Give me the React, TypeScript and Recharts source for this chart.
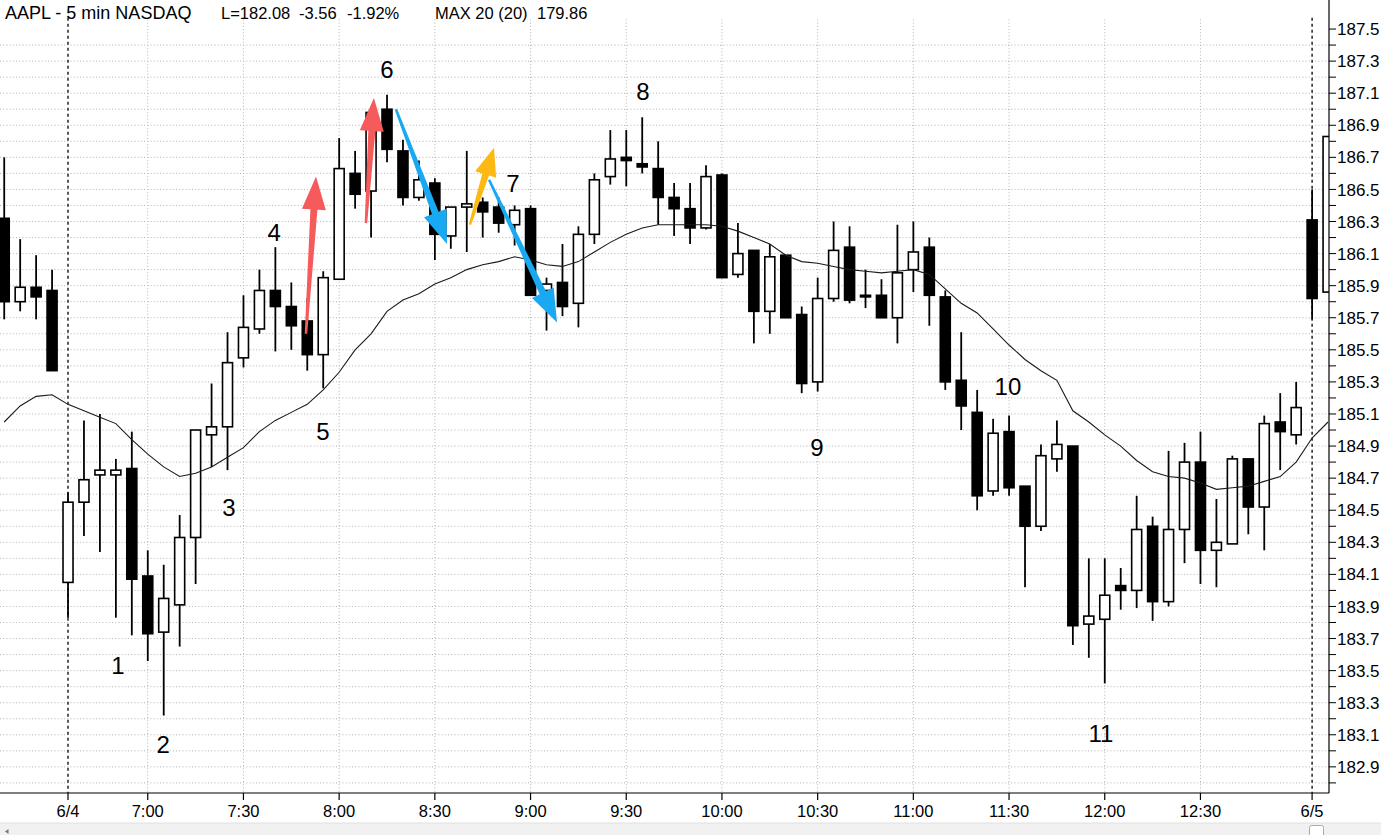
import React from 'react';
import { ComposedChart, Bar, Line, XAxis, YAxis, ReferenceLine, ReferenceDot } from 'recharts';

// ---------- data ----------
const barIndex = [-4, -3, -2, -1, 0, 1, 2, 3, 4, 5, 6, 7, 8, 9, 10, 11, 12, 13, 14, 15, 16, 17, 18, 19, 20, 21, 22, 23, 24, 25, 26, 27, 28, 29, 30, 31, 32, 33, 34, 35, 36, 37, 38, 39, 40, 41, 42, 43, 44, 45, 46, 47, 48, 49, 50, 51, 52, 53, 54, 55, 56, 57, 58, 59, 60, 61, 62, 63, 64, 65, 66, 67, 68, 69, 70, 71, 72, 73, 74, 75, 76, 77, 78, 79];

const opens = [186.32, 185.80, 185.89, 185.87,
  184.05, 184.55, 184.72, 184.72, 184.76, 184.09, 183.74, 183.91, 184.33, 184.97,
  185.02, 185.45, 185.63, 185.87, 185.77, 185.68, 185.47, 185.94, 186.60, 186.49,
  187.00, 186.74, 186.45, 186.54, 186.21, 186.39, 186.42, 186.39, 186.28, 186.38,
  185.87, 185.92, 185.79, 186.22, 186.58, 186.70, 186.66, 186.63, 186.45, 186.38,
  186.26, 186.59, 185.97, 186.12, 185.74, 186.09, 185.72, 185.30, 185.82, 186.14,
  185.84, 185.84, 185.70, 186.00, 186.14, 185.83, 185.31, 185.11, 184.62, 184.99,
  184.65, 184.40, 184.82, 184.90, 183.79, 183.82, 184.03, 184.00, 184.40, 183.93,
  184.38, 184.80, 184.25, 184.29, 184.82, 184.52, 185.05, 184.97, 186.31, 185.86];

const highs = [186.70, 186.19, 186.09, 186.00,
  184.61, 185.06, 185.10, 184.82, 184.99, 184.25, 184.16, 184.47, 185.00, 185.29,
  185.61, 185.84, 186.00, 186.14, 185.92, 185.82, 185.99, 186.82, 186.74, 187.00,
  187.09, 186.81, 186.68, 186.57, 186.39, 186.74, 186.45, 186.45, 186.40, 186.40,
  185.95, 186.16, 186.27, 186.60, 186.87, 186.87, 186.95, 186.80, 186.54, 186.54,
  186.65, 186.60, 186.29, 186.12, 186.16, 186.09, 185.77, 185.95, 186.30, 186.27,
  186.00, 185.94, 186.28, 186.30, 186.20, 185.87, 185.61, 185.25, 185.07, 185.09,
  184.65, 184.91, 185.06, 184.90, 184.20, 184.20, 184.14, 184.59, 184.46, 184.87,
  184.92, 184.99, 184.57, 184.84, 184.82, 185.09, 185.23, 185.30, 186.50, 186.83];

const lows = [185.69, 185.74, 185.69, 185.37,
  183.83, 184.34, 184.24, 183.83, 183.72, 183.56, 183.22, 183.65, 184.04, 184.77,
  184.75, 185.39, 185.60, 185.49, 185.50, 185.37, 185.26, 185.94, 186.38, 186.20,
  186.67, 186.40, 186.43, 186.06, 186.13, 186.11, 186.20, 186.23, 186.15, 185.84,
  185.62, 185.71, 185.64, 186.16, 186.53, 186.52, 186.60, 186.28, 186.21, 186.16,
  186.25, 185.95, 185.95, 185.54, 185.60, 185.70, 185.23, 185.24, 185.80, 185.79,
  185.76, 185.70, 185.54, 185.86, 185.65, 185.25, 185.00, 184.50, 184.59, 184.59,
  184.02, 184.37, 184.74, 183.66, 183.58, 183.42, 183.88, 183.89, 183.81, 183.90,
  184.17, 184.04, 184.02, 184.29, 184.35, 184.25, 184.75, 184.91, 185.69, 185.86];

const closes = [185.80, 185.89, 185.83, 185.37,
  184.55, 184.69, 184.75, 184.75, 184.07, 183.73, 183.95, 184.33, 185.00, 185.02,
  185.42, 185.64, 185.87, 185.77, 185.65, 185.47, 185.95, 186.63, 186.47, 186.98,
  186.75, 186.45, 186.56, 186.22, 186.39, 186.41, 186.36, 186.29, 186.37, 185.84,
  185.91, 185.77, 186.22, 186.56, 186.69, 186.68, 186.64, 186.45, 186.38, 186.26,
  186.58, 185.95, 186.10, 185.74, 186.08, 185.70, 185.29, 185.82, 186.12, 185.81,
  185.83, 185.70, 185.98, 186.11, 185.84, 185.30, 185.15, 184.59, 184.98, 184.64,
  184.40, 184.84, 184.91, 183.78, 183.84, 183.97, 184.00, 184.38, 183.93, 184.38,
  184.80, 184.25, 184.30, 184.82, 184.52, 185.04, 184.99, 185.14, 185.82, 186.83];

const maValues = [185.05, 185.15, 185.21, 185.22,
  185.16, 185.12, 185.08, 185.04, 184.94, 184.85, 184.77, 184.71, 184.73, 184.77,
  184.83, 184.89, 184.99, 185.06, 185.11, 185.16, 185.25, 185.36, 185.50, 185.60,
  185.74, 185.81, 185.85, 185.91, 185.95, 186.00, 186.03, 186.05, 186.08, 186.06,
  186.03, 186.02, 186.05, 186.11, 186.17, 186.22, 186.26, 186.28, 186.28, 186.28,
  186.28, 186.27, 186.24, 186.20, 186.16, 186.09, 186.05, 186.04, 186.02, 186.00,
  185.99, 185.98, 185.99, 186.00, 185.97, 185.88, 185.79, 185.73, 185.63, 185.53,
  185.44, 185.37, 185.31, 185.12, 185.05, 184.97, 184.90, 184.81, 184.74, 184.71,
  184.70, 184.67, 184.63, 184.64, 184.65, 184.68, 184.71, 184.80, 184.95, 185.05];

const xTickIndex = [0, 5, 11, 17, 23, 29, 35, 41, 47, 53, 59, 65, 71, 78];
const xTickLabels = ['6/4', '7:00', '7:30', '8:00', '8:30', '9:00', '9:30', '10:00', '10:30', '11:00', '11:30', '12:00', '12:30', '6/5'];
const dayBreakIndex = [0, 78];

const yTickValues = [182.8, 182.9, 183.0, 183.1, 183.2, 183.3, 183.4, 183.5, 183.6, 183.7, 183.8, 183.9,
  184.0, 184.1, 184.2, 184.3, 184.4, 184.5, 184.6, 184.7, 184.8, 184.9,
  185.0, 185.1, 185.2, 185.3, 185.4, 185.5, 185.6, 185.7, 185.8, 185.9,
  186.0, 186.1, 186.2, 186.3, 186.4, 186.5, 186.6, 186.7, 186.8, 186.9,
  187.0, 187.1, 187.2, 187.3, 187.4, 187.5];
const yLabelValues = [182.9, 183.1, 183.3, 183.5, 183.7, 183.9, 184.1, 184.3, 184.5, 184.7, 184.9,
  185.1, 185.3, 185.5, 185.7, 185.9, 186.1, 186.3, 186.5, 186.7, 186.9, 187.1, 187.3, 187.5];
const gridPrices = [182.8, 182.9, 183.0, 183.1, 183.2, 183.3, 183.4, 183.5, 183.6, 183.7, 183.8, 183.9,
  184.0, 184.1, 184.2, 184.3, 184.4, 184.5, 184.6, 184.7, 184.8, 184.9,
  185.0, 185.1, 185.2, 185.3, 185.4, 185.5, 185.6, 185.7, 185.8, 185.9,
  186.0, 186.1, 186.2, 186.3, 186.4, 186.5, 186.6, 186.7, 186.8, 186.9,
  187.0, 187.1, 187.2, 187.3, 187.4];

// annotation arrows (tail -> tip) in bar-index / price units
const arrowTailIdx = [14.92, 18.68, 20.56, 26.4, 25.2];
const arrowTailPrice = [185.60, 186.29, 187.0, 186.56, 186.28];
const arrowTipIdx = [15.55, 19.18, 23.76, 30.66, 26.71];
const arrowTipPrice = [186.58, 187.07, 186.16, 185.67, 186.76];
const arrowColors = ['#F55B5B', '#F55B5B', '#19A9F2', '#19A9F2', '#FDB913'];

// swing numbers
const swingText = ['1', '2', '3', '4', '5', '6', '7', '8', '9', '10', '11'];
const swingIdx = [3.13, 5.96, 10.09, 12.92, 15.99, 20.0, 27.9, 36.05, 46.96, 58.93, 64.76];
const swingPrice = [183.53, 183.04, 184.52, 186.23, 184.99, 187.25, 186.54, 187.11, 184.89, 185.27, 183.11];

// header texts
const headerTitle = 'AAPL - 5 min NASDAQ';
const headerStats = ['L=182.08', '-3.56', '-1.92%', 'MAX 20 (20)', '179.86'];
const headerStatX = [221, 299, 347, 435, 537];

// ---------- chart config ----------
const X_DOMAIN: [number, number] = [-4.263, 79.06];
const Y_DOMAIN: [number, number] = [182.737, 187.681];
const FONT = '"Liberation Sans", Arial, Helvetica, sans-serif';

const rows = barIndex.map((i, k) => ({
  i,
  o: opens[k],
  h: highs[k],
  l: lows[k],
  c: closes[k],
  range: [lows[k], highs[k]],
  ma: maValues[k],
}));

const Candle = (props: any) => {
  let { x, y, width, height, payload } = props;
  if (height < 0) {
    y = y + height;
    height = -height;
  }
  const { o, h, l, c } = payload;
  const span = h - l;
  const toY = (v: number) => (span === 0 ? y : y + ((h - v) / span) * height);
  const cx = x + width / 2;
  const up = c >= o;
  const top = toY(Math.max(o, c));
  const bot = toY(Math.min(o, c));
  const bh = Math.max(bot - top, 1.5);
  return (
    <g>
      <line x1={cx} x2={cx} y1={y} y2={y + height} stroke="#000" strokeWidth={1.8} />
      <rect x={x} y={top} width={width} height={bh} fill={up ? '#fff' : '#000'} stroke="#000" strokeWidth={1.6} />
    </g>
  );
};

function arrowShape(color: string, headLen: number, headW: number, tailW: number, neckW: number) {
  return (p: any) => {
    const { x1, y1, x2, y2 } = p;
    const dx = x2 - x1;
    const dy = y2 - y1;
    const L = Math.hypot(dx, dy) || 1;
    const ux = dx / L;
    const uy = dy / L;
    const nx = -uy;
    const ny = ux;
    const bx = x2 - ux * headLen;
    const by = y2 - uy * headLen;
    const pts = [
      [x1 + (nx * tailW) / 2, y1 + (ny * tailW) / 2],
      [bx + (nx * neckW) / 2, by + (ny * neckW) / 2],
      [bx + (nx * headW) / 2, by + (ny * headW) / 2],
      [x2, y2],
      [bx - (nx * headW) / 2, by - (ny * headW) / 2],
      [bx - (nx * neckW) / 2, by - (ny * neckW) / 2],
      [x1 - (nx * tailW) / 2, y1 - (ny * tailW) / 2],
    ];
    return <polygon points={pts.map((q) => q.join(',')).join(' ')} fill={color} />;
  };
}

const YTick = (props: any) => {
  const { x, y, payload } = props;
  const v = Number(payload.value);
  const labeled = yLabelValues.some((lv) => Math.abs(lv - v) < 1e-6);
  if (!labeled) return <g />;
  return (
    <text x={x} y={y} dy="0.36em" textAnchor="start" fontSize={17} fill="#000" fontFamily={FONT}>
      {v.toFixed(1)}
    </text>
  );
};

const XTick = (props: any) => {
  const { x, y, payload } = props;
  const k = xTickIndex.indexOf(Number(payload.value));
  return (
    <text x={x} y={y} dy="0.72em" textAnchor="middle" fontSize={16.5} fill="#000" fontFamily={FONT}>
      {k >= 0 ? xTickLabels[k] : ''}
    </text>
  );
};

export default function App() {
  return (
    <div style={{ position: 'absolute', left: 0, top: 0, width: 1381, height: 835, background: '#fff', fontFamily: FONT }}>
      <ComposedChart
        width={1381}
        height={835}
        data={rows}
        margin={{ top: 0, right: 0, bottom: 0, left: 0 }}
      >
        <XAxis
          type="number"
          dataKey="i"
          domain={X_DOMAIN}
          allowDataOverflow
          ticks={xTickIndex}
          interval={0}
          height={42}
          tickSize={7}
          tickMargin={5}
          axisLine={{ stroke: '#000', strokeWidth: 1.2 }}
          tickLine={{ stroke: '#000', strokeWidth: 1.2 }}
          tick={<XTick />}
        />
        <YAxis
          type="number"
          orientation="right"
          domain={Y_DOMAIN}
          allowDataOverflow
          ticks={yTickValues}
          interval={0}
          width={52}
          tickSize={7}
          tickMargin={1}
          axisLine={{ stroke: '#000', strokeWidth: 1.2 }}
          tickLine={{ stroke: '#000', strokeWidth: 1 }}
          tick={<YTick />}
        />
        {gridPrices.map((v) => (
          <ReferenceLine key={'h' + v} y={v} stroke="#b3b3b3" strokeWidth={1} strokeDasharray="1 2.2" zIndex={-90} />
        ))}
        {xTickIndex.filter((t) => dayBreakIndex.indexOf(t) < 0).map((t) => (
          <ReferenceLine
            key={'v' + t}
            segment={[{ x: t, y: 187.56 }, { x: t, y: Y_DOMAIN[0] }]}
            stroke="#b3b3b3"
            strokeWidth={1}
            strokeDasharray="1 2.2"
            zIndex={-90}
          />
        ))}
        {dayBreakIndex.map((t) => (
          <ReferenceLine
            key={'d' + t}
            segment={[{ x: t, y: 187.57 }, { x: t, y: Y_DOMAIN[0] }]}
            stroke="#000"
            strokeWidth={1.3}
            strokeDasharray="3 3"
            zIndex={-80}
          />
        ))}
        <Bar dataKey="range" barSize={10} shape={<Candle />} isAnimationActive={false} />
        <Line
          dataKey="ma"
          type="linear"
          stroke="#1a1a1a"
          strokeWidth={1.1}
          dot={false}
          activeDot={false}
          isAnimationActive={false}
        />
        {arrowTailIdx.map((t, k) => (
          <ReferenceLine
            key={'a' + k}
            segment={[{ x: t, y: arrowTailPrice[k] }, { x: arrowTipIdx[k], y: arrowTipPrice[k] }]}
            ifOverflow="visible"
            zIndex={1500}
            shape={arrowShape(arrowColors[k], k === 4 ? 28 : 33, k === 4 ? 22 : 24, 2.5, 7)}
          />
        ))}
        {swingText.map((s, k) => (
          <ReferenceDot
            key={'s' + k}
            x={swingIdx[k]}
            y={swingPrice[k]}
            r={0}
            ifOverflow="visible"
            zIndex={1600}
            shape={(p: any) => (
              <text x={p.cx} y={p.cy} dy="0.36em" textAnchor="middle" fontSize={24} fill="#000" fontFamily={FONT}>
                {s}
              </text>
            )}
          />
        ))}
      </ComposedChart>
      <svg
        width={1381}
        height={835}
        style={{ position: 'absolute', left: 0, top: 0, pointerEvents: 'none' }}
      >
        <text x={5} y={19} fontSize={18} fill="#000" fontFamily={FONT}>{headerTitle}</text>
        {headerStats.map((s, k) => (
          <text key={'hs' + k} x={headerStatX[k]} y={19} fontSize={16.5} fill="#000" fontFamily={FONT}>{s}</text>
        ))}
        <rect x={0} y={823} width={1381} height={12} fill="#f1f1f1" />
        <line x1={0} x2={1381} y1={823} y2={823} stroke="#e0e0e0" />
        <polygon points="5,831.5 8.5,829 8.5,834" fill="#777" />
        <rect x={1309.5} y={825.5} width={14} height={12} rx={2} fill="#fff" stroke="#aaa" />
      </svg>
    </div>
  );
}
